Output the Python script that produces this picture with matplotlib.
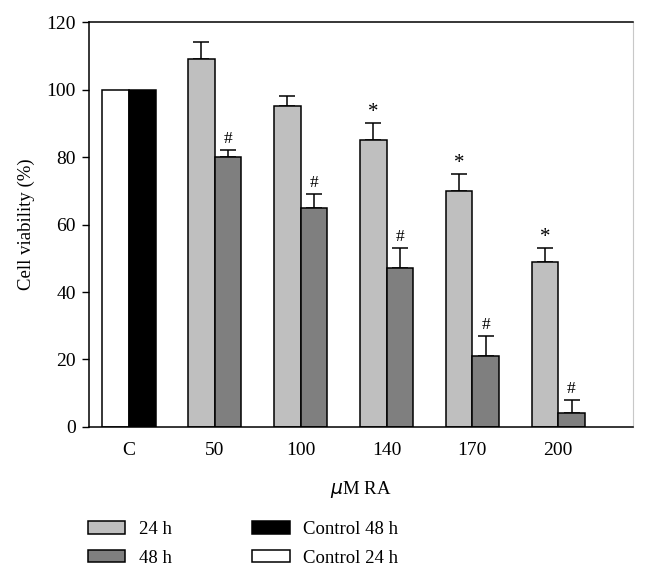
import matplotlib
matplotlib.use("Agg")
import matplotlib.pyplot as plt
from matplotlib.patches import Patch
import numpy as np

categories = ["C", "50", "100", "140", "170", "200"]
control_24h = 100
control_48h = 100
vals_24h = [109, 95, 85, 70, 49]
err_24h = [5, 3, 5, 5, 4]
vals_48h = [80, 65, 47, 21, 4]
err_48h = [2, 4, 6, 6, 4]
star_24h = [False, False, True, True, True]
hash_48h = [True, True, True, True, True]

plt.rcParams['font.family'] = ['Liberation Serif', 'DejaVu Serif']
FS_TICK = 14
FS = 13.5

fig = plt.figure(figsize=(6.47, 5.75), dpi=100)
ax = fig.add_axes([0.1375, 0.2574, 0.8408, 0.7043])

LIGHT = "#bfbfbf"
DARK = "#7f7f7f"
w = 0.31
x = np.arange(len(categories))

ax.bar(x[0] - w / 2, control_24h, w, color="white", edgecolor="black", linewidth=1.1, zorder=2)
ax.bar(x[0] + w / 2, control_48h, w, color="black", edgecolor="black", linewidth=1.1, zorder=2)

xd = x[1:]
ax.bar(xd - w / 2, vals_24h, w, color=LIGHT, edgecolor="black", linewidth=1.1, zorder=2)
ax.bar(xd + w / 2, vals_48h, w, color=DARK, edgecolor="black", linewidth=1.1, zorder=2)
ax.errorbar(xd - w / 2, vals_24h, yerr=[np.zeros(len(err_24h)), err_24h], fmt="none",
            ecolor="black", elinewidth=1.1, capsize=6, capthick=1.1, zorder=1)
ax.errorbar(xd + w / 2, vals_48h, yerr=[np.zeros(len(err_48h)), err_48h], fmt="none",
            ecolor="black", elinewidth=1.1, capsize=6, capthick=1.1, zorder=1)

for xi, v, e, s in zip(xd - w / 2, vals_24h, err_24h, star_24h):
    if s:
        ax.text(xi, v + e + 0.4, "*", ha="center", va="bottom", fontsize=15)
for xi, v, e, s in zip(xd + w / 2, vals_48h, err_48h, hash_48h):
    if s:
        ax.text(xi, v + e + 1.0, "#", ha="center", va="bottom", fontsize=12.5)

ax.set_xlim(-0.465, 5.87)
ax.set_ylim(0, 120)
ax.set_yticks(np.arange(0, 121, 20))
ax.set_xticks(x)
ax.set_xticklabels(categories)
ax.tick_params(axis="y", direction="out", length=5, width=1, labelsize=FS_TICK, pad=4.5)
ax.tick_params(axis="x", length=0, labelsize=FS_TICK, pad=11)
ax.set_ylabel("Cell viability (%)", fontsize=FS, labelpad=8)
ax.set_xlabel(r"$\mu$M RA", fontsize=FS, labelpad=14)

for s in ["left", "bottom", "top"]:
    ax.spines[s].set_linewidth(1.1)
    ax.spines[s].set_color("black")
ax.spines["right"].set_color("#c8c8c8")
ax.spines["right"].set_linewidth(0.8)

handles = [Patch(facecolor=LIGHT, edgecolor="black", linewidth=1.1),
           Patch(facecolor=DARK, edgecolor="black", linewidth=1.1),
           Patch(facecolor="black", edgecolor="black", linewidth=1.1),
           Patch(facecolor="white", edgecolor="black", linewidth=1.1)]
labels = ["24 h", "48 h", "Control 48 h", "Control 24 h"]
fig.legend(handles, labels, loc="upper left", bbox_to_anchor=(0.136, 0.094), ncol=2,
           frameon=False, fontsize=FS, borderpad=0, borderaxespad=0, handlelength=2.0,
           handleheight=0.64, handletextpad=0.7, columnspacing=4.3, labelspacing=0.62)

fig.savefig("out.png", dpi=100)
